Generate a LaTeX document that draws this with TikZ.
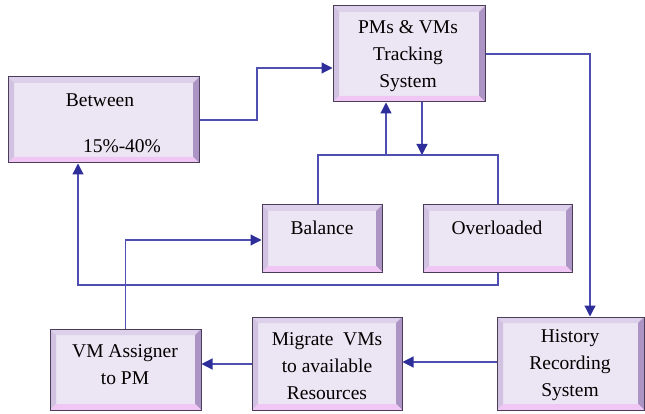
\documentclass[tikz,border=0pt]{standalone}
\usepackage{fontspec}
\setmainfont{Liberation Serif}
\usetikzlibrary{arrows.meta,calc}
\definecolor{boxface}{HTML}{ECE5F3}
\definecolor{boxedge}{HTML}{4B3D5A}
\definecolor{bevtop}{HTML}{DCD0EA}
\definecolor{bevleft}{HTML}{D2C2E2}
\definecolor{bevright}{HTML}{AC94C4}
\definecolor{bevbottom}{HTML}{F0C6F4}
\definecolor{wire}{HTML}{4F4FB2}
\definecolor{tip}{HTML}{2E2E9A}
\tikzset{
  box/.style={draw=boxedge, line width=1pt, fill=boxface, inner sep=0pt,
    path picture={
      \def\bv{6pt}
      \fill[bevtop] (path picture bounding box.north west) -- (path picture bounding box.north east)
        -- ([xshift=-\bv,yshift=-\bv]path picture bounding box.north east)
        -- ([xshift=\bv,yshift=-\bv]path picture bounding box.north west) -- cycle;
      \fill[bevleft] (path picture bounding box.north west) -- (path picture bounding box.south west)
        -- ([xshift=\bv,yshift=\bv]path picture bounding box.south west)
        -- ([xshift=\bv,yshift=-\bv]path picture bounding box.north west) -- cycle;
      \fill[bevright] (path picture bounding box.north east) -- (path picture bounding box.south east)
        -- ([xshift=-\bv,yshift=\bv]path picture bounding box.south east)
        -- ([xshift=-\bv,yshift=-\bv]path picture bounding box.north east) -- cycle;
      \fill[bevbottom] (path picture bounding box.south west) -- (path picture bounding box.south east)
        -- ([xshift=-\bv,yshift=\bv]path picture bounding box.south east)
        -- ([xshift=\bv,yshift=\bv]path picture bounding box.south west) -- cycle;
    }},
  label/.style={font=\fontsize{19.5}{27}\selectfont, align=center, inner sep=0pt, text=black},
  wireline/.style={draw=wire, line width=1.2pt},
  arr/.style={wireline, -{Triangle[length=11pt,width=11pt,color=tip]}}
}
\begin{document}
\begin{tikzpicture}[x=1pt,y=-1pt]
\useasboundingbox (0,0) rectangle (645,414);

% boxes
\node[box, minimum width=191pt, minimum height=86pt] (btw) at (103.5,120) {};
\node[box, minimum width=152pt, minimum height=96pt] (pms) at (409,54) {};
\node[box, minimum width=120pt, minimum height=67pt] (bal) at (322,238.5) {};
\node[box, minimum width=149pt, minimum height=67pt] (ovl) at (497.5,238.5) {};
\node[box, minimum width=151pt, minimum height=81pt] (vma) at (125.5,369.5) {};
\node[box, minimum width=150pt, minimum height=93pt] (mig) at (327,363.5) {};
\node[box, minimum width=147pt, minimum height=93pt] (his) at (570.5,363.5) {};

% box texts
\node[label] (btwa) at (100,100) {Between};
\node[label] (btwb) at (122,146) {15\%-40\%};
\node[label] (pmst) at (408,56) {PMs \& VMs\\Tracking\\System};
\node[label] (balt) at (322,228) {Balance};
\node[label] (ovlt) at (497,228) {Overloaded};
\node[label] (vmat) at (125,365) {VM Assigner\\to PM};
\node[label] (migt) at (327,366) {Migrate\ \ VMs\\to available\\Resources};
\node[label] (hist) at (570,365) {History\\Recording\\System};

% bend and junction points
\coordinate (j1) at (257,120);
\coordinate (j2) at (257,68);
\coordinate (k68) at (0,68);
\coordinate (r1) at (590,54);
\coordinate (dn) at (422,155);
\coordinate (up) at (386,155);
\coordinate (bl) at (318,155);
\coordinate (br) at (498,155);
\coordinate (lo) at (498,285);
\coordinate (ll) at (78,285);
\coordinate (k240) at (0,240);
\coordinate (k364) at (0,364);
\coordinate (k362) at (0,362);

% connectors
\draw[arr] (btw.east |- j1) -- (j1) -- (j2) -- (pms.west |- k68);
\draw[arr] (pms.east |- r1) -- (r1) -- (his.north -| r1);
\draw[arr] (pms.south -| dn) -- (dn);
\draw[wireline] (bal.north -| bl) -- (bl) -- (br) -- (ovl.north -| br);
\draw[arr] (up) -- (pms.south -| up);
\draw[arr] (ovl.south -| lo) -- (lo) -- (ll) -- (btw.south -| ll);
\draw[arr] (vma.north) |- (bal.west |- k240);
\draw[arr] (mig.west |- k364) -- (vma.east |- k364);
\draw[arr] (his.west |- k362) -- (mig.east |- k362);
\end{tikzpicture}
\end{document}
